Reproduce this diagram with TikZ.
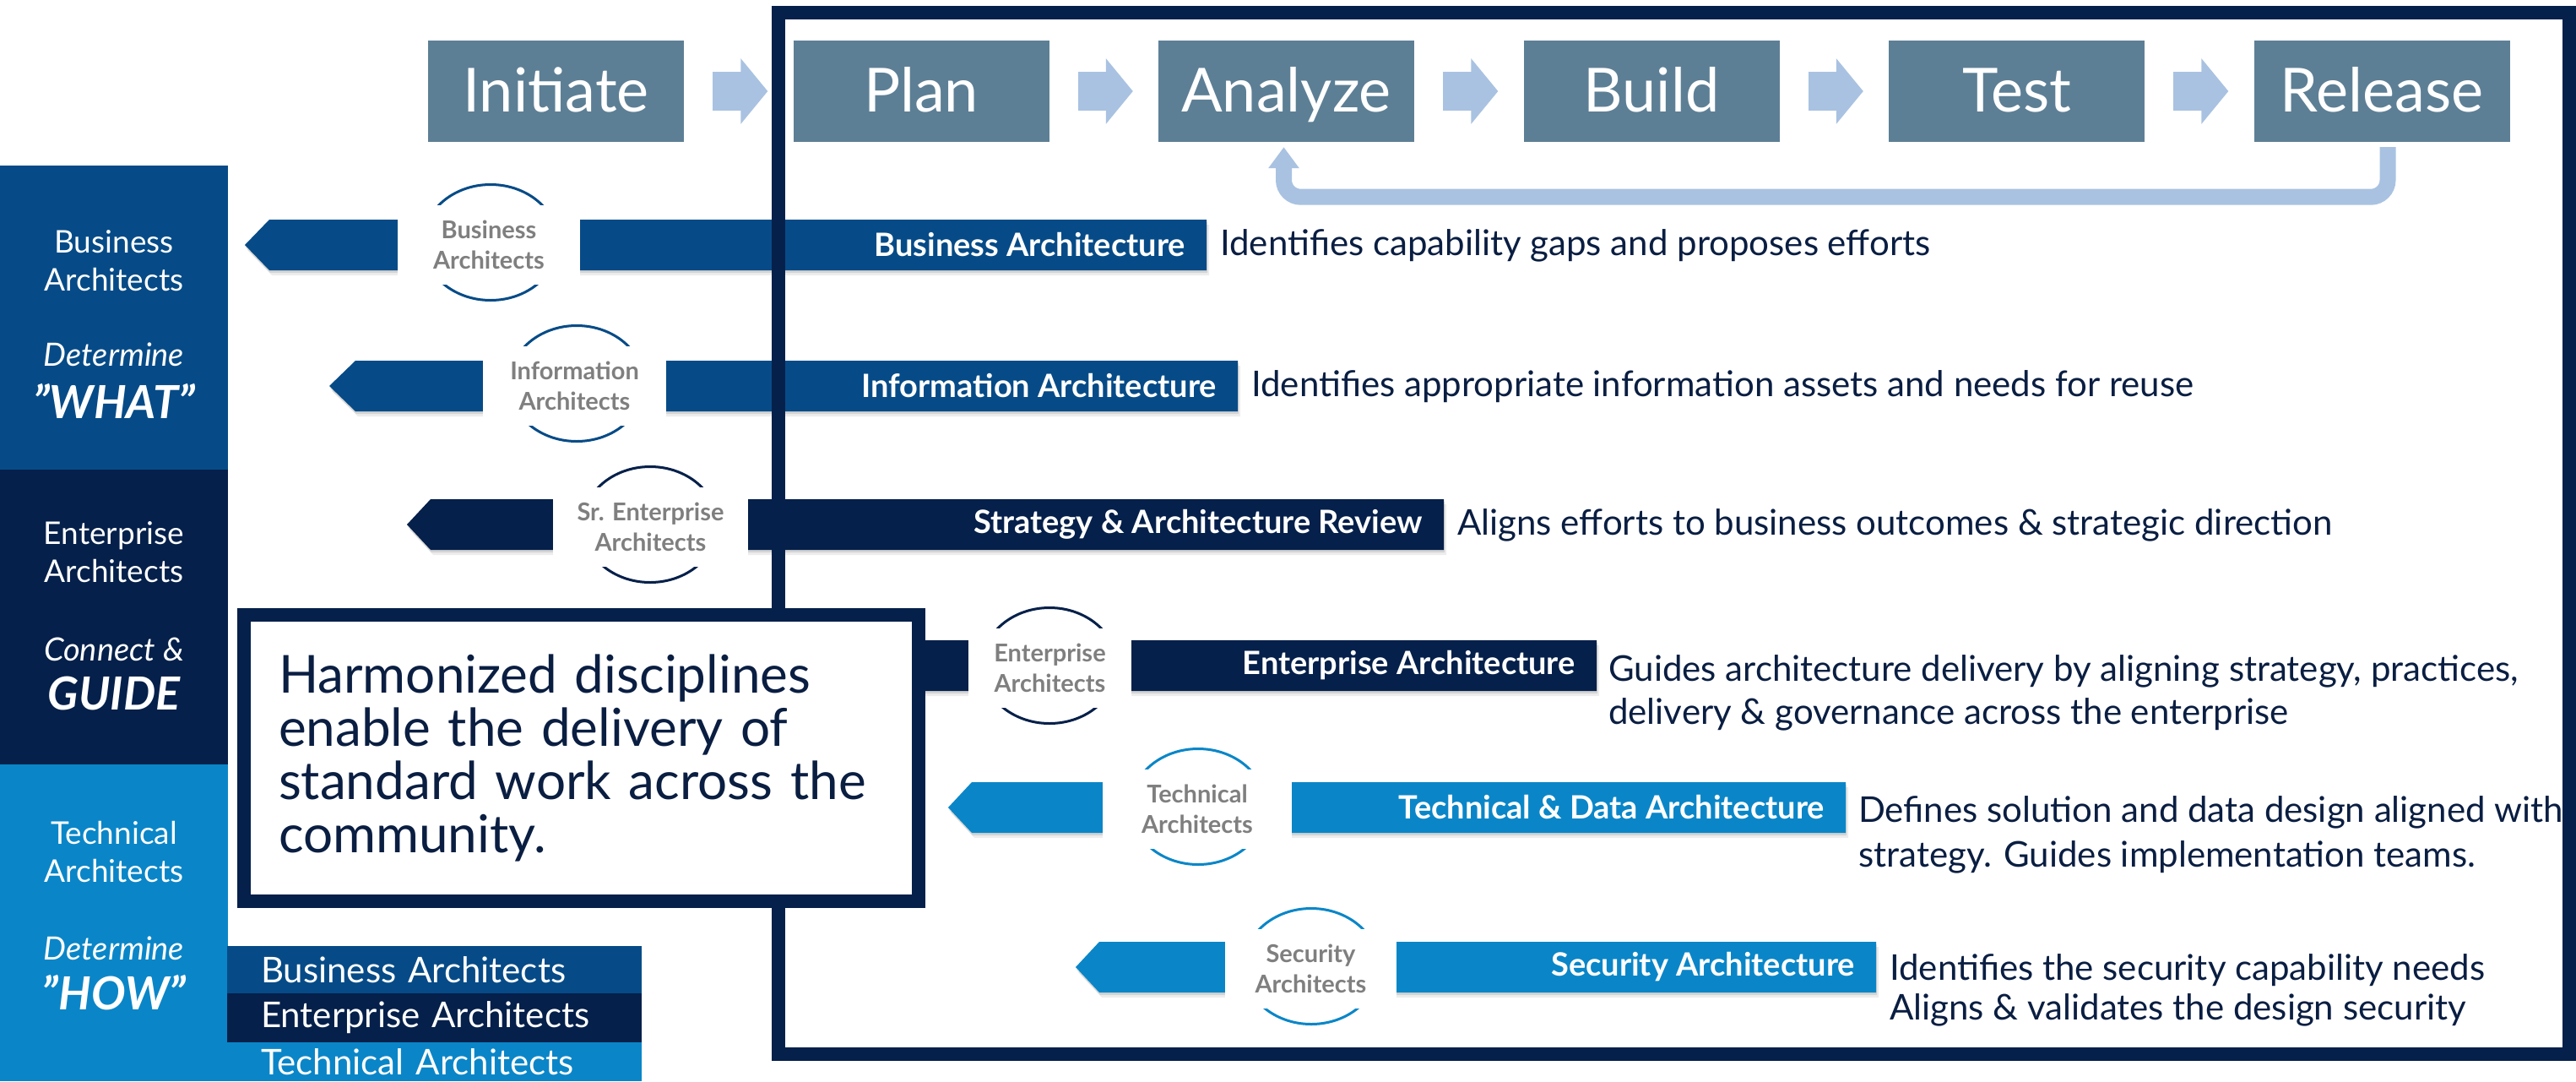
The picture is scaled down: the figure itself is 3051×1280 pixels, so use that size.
\documentclass[tikz,border=0pt]{standalone}
\usepackage{fontspec}
\setmainfont{Lato}
\usetikzlibrary{arrows.meta,calc,shapes.geometric}
\definecolor{bizblue}{HTML}{064B87}
\definecolor{navy}{HTML}{05204A}
\definecolor{techblue}{HTML}{0A86C8}
\definecolor{procc}{HTML}{5D7F95}
\definecolor{lightarr}{HTML}{A9C2E1}
\definecolor{graytxt}{HTML}{7F7F7F}
\definecolor{desctxt}{HTML}{0A1E42}
\newcommand{\fsz}[2]{\fontsize{#1}{#2}\selectfont}
\newcommand{\rowband}[5]{%
  \fill[black,opacity=0.07] (#2+3,#4+6) -- (#3+3,#4-24) -- (#5+3,#4-24) -- (#5+3,#4+36) -- (#3+3,#4+36) -- cycle;
  \fill[black,opacity=0.10] (#2+1,#4+3) -- (#3+1,#4-27) -- (#5+1,#4-27) -- (#5+1,#4+33) -- (#3+1,#4+33) -- cycle;
  \fill[#1] (#2,#4) -- (#3,#4-30) -- (#5,#4-30) -- (#5,#4+30) -- (#3,#4+30) -- cycle;}
\tikzset{
  proc/.style={fill=procc, text=white, minimum width=303pt, minimum height=120pt, inner sep=0pt, text height=52pt, text depth=4pt, font=\fsz{72}{76}},
  parrow/.style={lightarr, line width=46pt, -{Triangle[length=32pt,width=76pt]}},
  loopc/.style={lightarr, line width=19pt, rounded corners=20pt, -{Triangle[length=25pt,width=35pt]}},
  coltxt/.style={text=white, align=center, inner sep=0pt, font=\fsz{37}{45}},
  colit/.style={text=white, align=center, inner sep=0pt, font=\itshape\fsz{38}{45}},
  colbig/.style={text=white, align=center, inner sep=0pt, font=\bfseries\itshape\fsz{54}{58}},
  legendbox/.style={text=white, minimum height=58pt, text width=411pt, inner xsep=40pt, inner ysep=0pt, align=left, font=\fsz{42}{46}},
  ring/.style={draw, line width=3pt, fill=white, ellipse, minimum width=160pt, minimum height=137pt, inner sep=0pt},
  ctext/.style={fill=white, text=graytxt, minimum height=94pt, inner sep=0pt, align=center, font=\bfseries\fsz{29}{36}},
  label/.style={text=white, inner sep=0pt, anchor=east, font=\bfseries\fsz{38}{42}},
  desc/.style={text=desctxt, inner sep=0pt, anchor=west, align=left, font=\fsz{42}{51}},
  hbox/.style={draw=navy, line width=16pt, fill=white, minimum width=799pt, minimum height=339pt, text width=717pt, inner sep=0pt, align=left, text=desctxt, font=\fsz{62}{63}}
}
\begin{document}
\begin{tikzpicture}[x=1pt,y=-1pt]
\useasboundingbox (0,0) rectangle (3051,1280);
\clip (0,0) rectangle (3051,1280);
\fill[white] (0,0) rectangle (3051,1280);

% left column
\fill[bizblue] (0,196) rectangle (270,556);
\fill[navy] (0,556) rectangle (270,905);
\fill[techblue] (0,905) rectangle (270,1280);
\node[coltxt] (colb) at (135,309) {Business\\Architects};
\node[colit] (colbd) at (135,420) {Determine};
\node[colbig] (colbw) at (135,475) {"WHAT"};
\node[coltxt] (cole) at (135,654) {Enterprise\\Architects};
\node[colit] (colec) at (135,769) {Connect \&};
\node[colbig] (coleg) at (135,821) {GUIDE};
\node[coltxt] (colt) at (135,1009) {Technical\\Architects};
\node[colit] (coltd) at (135,1123) {Determine};
\node[colbig] (colth) at (135,1175) {"HOW"};

% legend
\node[legendbox, fill=bizblue, minimum height=56pt] (lgb) at (514.5,1148) {Business Architects};
\node[legendbox, fill=navy] (lge) at (514.5,1205) {Enterprise Architects};
\node[legendbox, fill=techblue, minimum height=46pt] (lgt) at (514.5,1257) {Technical Architects};

% process
\node[proc] (init) at (658.5,108) {Initiate};
\node[proc] (plan) at (1091,108) {Plan};
\node[proc] (anal) at (1523.5,108) {Analyze};
\node[proc] (build) at (1956,108) {Build};
\node[proc] (test) at (2388.5,108) {Test};
\node[proc] (rel) at (2821,108) {Release};
\foreach \a/\b in {init/plan, plan/anal, anal/build, build/test, test/rel}
  \draw[parrow] ($(\a.east)+(34,0)$) -- ($(\b.west)+(-30,0)$);
\coordinate (ls) at ($(rel.south)+(7,6)$);
\coordinate (le) at ($(anal.south)+(-3,6)$);
\draw[loopc] (ls) -- ++(0,59) -| (le);

% rows
\rowband{bizblue}{290}{319}{290}{1429}
\node[ring, draw=bizblue] (r1) at (581,287) {};
\node[ctext, minimum width=216pt] (c1) at (579,290) {Business\\Architects};
\node[label] (l1) at (1404,290) {Business Architecture};
\node[desc] (d1) at (1445,291) {Identifies capability gaps and proposes efforts};

\rowband{bizblue}{390}{421}{457}{1466}
\node[ring, draw=bizblue] (r2) at (683,454) {};
\node[ctext, minimum width=217pt] (c2) at (680.5,457) {Information\\Architects};
\node[label] (l2) at (1441,457) {Information Architecture};
\node[desc] (d2) at (1482,458) {Identifies appropriate information assets and needs for reuse};

\rowband{navy}{482}{510}{621}{1710}
\node[ring, draw=navy] (r3) at (770,621) {};
\node[ctext, minimum width=231pt] (c3) at (770.5,624) {Sr. Enterprise\\Architects};
\node[label] (l3) at (1685,621) {Strategy \& Architecture Review};
\node[desc] (d3) at (1726,622) {Aligns efforts to business outcomes \& strategic direction};

\rowband{navy}{1000}{1029}{788}{1891}
\node[ring, draw=navy] (r4) at (1243,788) {};
\node[ctext, minimum width=193pt] (c4) at (1243.5,791) {Enterprise\\Architects};
\node[label] (l4) at (1866,788) {Enterprise Architecture};
\node[desc] (d4) at (1905,820) {Guides architecture delivery by aligning strategy, practices,\\delivery \& governance across the enterprise};

\rowband{techblue}{1123}{1151}{956}{2186}
\node[ring, draw=techblue] (r5) at (1419,955) {};
\node[ctext, minimum width=224pt] (c5) at (1418,958) {Technical\\Architects};
\node[label] (l5) at (2161,956) {Technical \& Data Architecture};
\node[desc, font=\fsz{42}{53}] (d5) at (2201,988) {Defines solution and data design aligned with\\strategy. Guides implementation teams.};

\rowband{techblue}{1274}{1302}{1145}{2222}
\node[ring, draw=techblue] (r6) at (1553,1144) {};
\node[ctext, minimum width=203pt] (c6) at (1552.5,1147) {Security\\Architects};
\node[label] (l6) at (2197,1145) {Security Architecture};
\node[desc, font=\fsz{42}{47}] (d6) at (2238,1172) {Identifies the security capability needs\\Aligns \& validates the design security};

% frame
\draw[navy, line width=16pt] (922,15) rectangle (3043,1248);

% harmonized box
\node[hbox] (harm) at (688.5,897.5) {Harmonized disciplines\\enable the delivery of\\standard work across the\\community.};
\end{tikzpicture}
\end{document}
